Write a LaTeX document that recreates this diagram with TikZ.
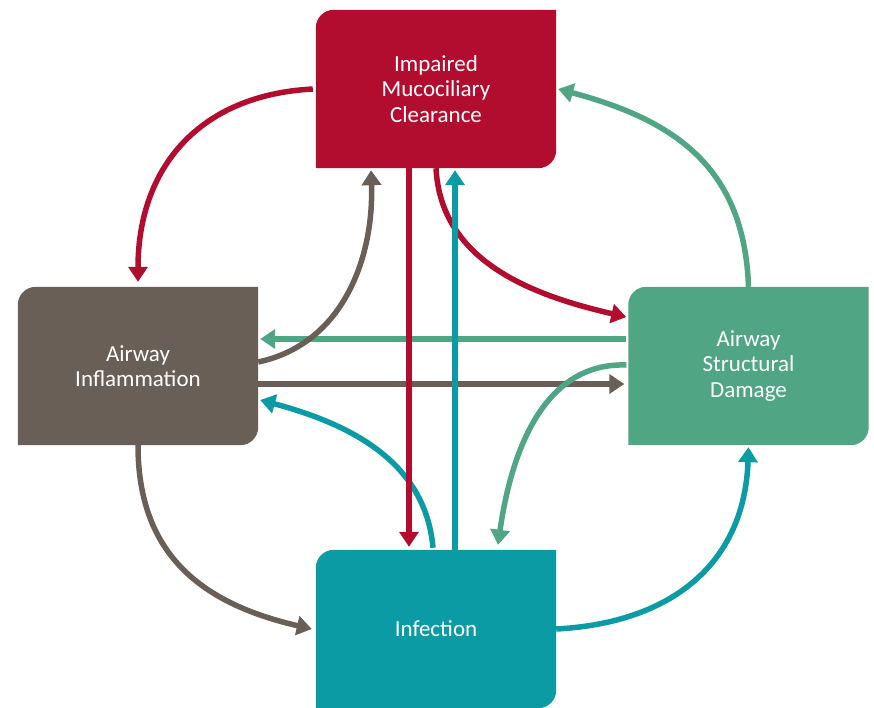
\documentclass[tikz,border=0pt]{standalone}
\usepackage{fontspec}
\setmainfont{Carlito}
\usetikzlibrary{arrows.meta,backgrounds}
\definecolor{cRed}{RGB}{178,12,46}
\definecolor{cGrey}{RGB}{106,95,87}
\definecolor{cGreen}{RGB}{79,165,132}
\definecolor{cTeal}{RGB}{11,155,165}
\tikzset{
  box/.style={minimum width=240pt, minimum height=158pt, inner sep=0pt, align=center,
    text=white, font=\fontsize{23}{25.5}\selectfont},
  arr/.style={line width=5.5pt, -{Triangle[length=15pt,width=19pt]}},
}
\newcommand\rsfillbox[2]{%
  \fill[#2] (#1.south west) -- ([yshift=-18pt]#1.north west)
    arc[start angle=180,end angle=90,radius=18pt] -- (#1.north east)
    -- ([yshift=18pt]#1.south east)
    arc[start angle=0,end angle=-90,radius=18pt] -- cycle;}
\begin{document}
\begin{tikzpicture}[x=1pt,y=1pt]
\useasboundingbox (0,0) rectangle (874,-707);
\node[box] (imc) at (436,-89) {Impaired\\Mucociliary\\Clearance};
\node[box] (infl) at (138,-366) {Airway\\Inflammation};
\node[box] (dmg) at (748.5,-366) {Airway\\Structural\\Damage};
\node[box] (inf) at (436,-629) {Infection};
\begin{scope}[on background layer]
  \rsfillbox{imc}{cRed}
  \rsfillbox{infl}{cGrey}
  \rsfillbox{dmg}{cGreen}
  \rsfillbox{inf}{cTeal}
\end{scope}
% outer loop
\draw[arr,cRed] ([xshift=-3pt]imc.west) to[out=183,in=90,looseness=1.12] ([yshift=5pt]infl.north);
\draw[arr,cGreen] (dmg.north) to[out=92,in=-15,looseness=1.12] ([xshift=2pt]imc.east);
\draw[arr,cGrey] (infl.south) to[out=-90,in=167,looseness=1.12] ([xshift=-4pt]inf.west);
\draw[arr,cTeal] (inf.east) to[out=3,in=-92,looseness=1.12] ([yshift=-2pt]dmg.south);
% horizontals
\draw[arr,cGreen] ([xshift=-2pt,yshift=27pt]dmg.west) -- ([xshift=2pt,yshift=27pt]infl.east);
\draw[arr,cGrey] ([yshift=-18pt]infl.east) -- ([xshift=-4pt,yshift=-18pt]dmg.west);
% inner curves
\draw[arr,cRed] (imc.south) to[out=-87,in=167] ([xshift=-2pt,yshift=49pt]dmg.west);
\draw[arr,cGrey] ([yshift=4pt]infl.east) to[out=12,in=-88] ([xshift=-65pt,yshift=-2pt]imc.south);
\draw[arr,cTeal] ([xshift=-3pt,yshift=2pt]inf.north) to[out=95,in=-15] ([xshift=2pt,yshift=-34pt]infl.east);
\draw[arr,cGreen] ([xshift=-2pt,yshift=1pt]dmg.west) to[out=178,in=82] ([xshift=62pt,yshift=5pt]inf.north);
% verticals
\draw[arr,cRed] ([xshift=-27pt]imc.south) -- ([xshift=-27pt,yshift=3pt]inf.north);
\draw[arr,cTeal] ([xshift=19pt]inf.north) -- ([xshift=19pt,yshift=-2pt]imc.south);
\end{tikzpicture}
\end{document}
